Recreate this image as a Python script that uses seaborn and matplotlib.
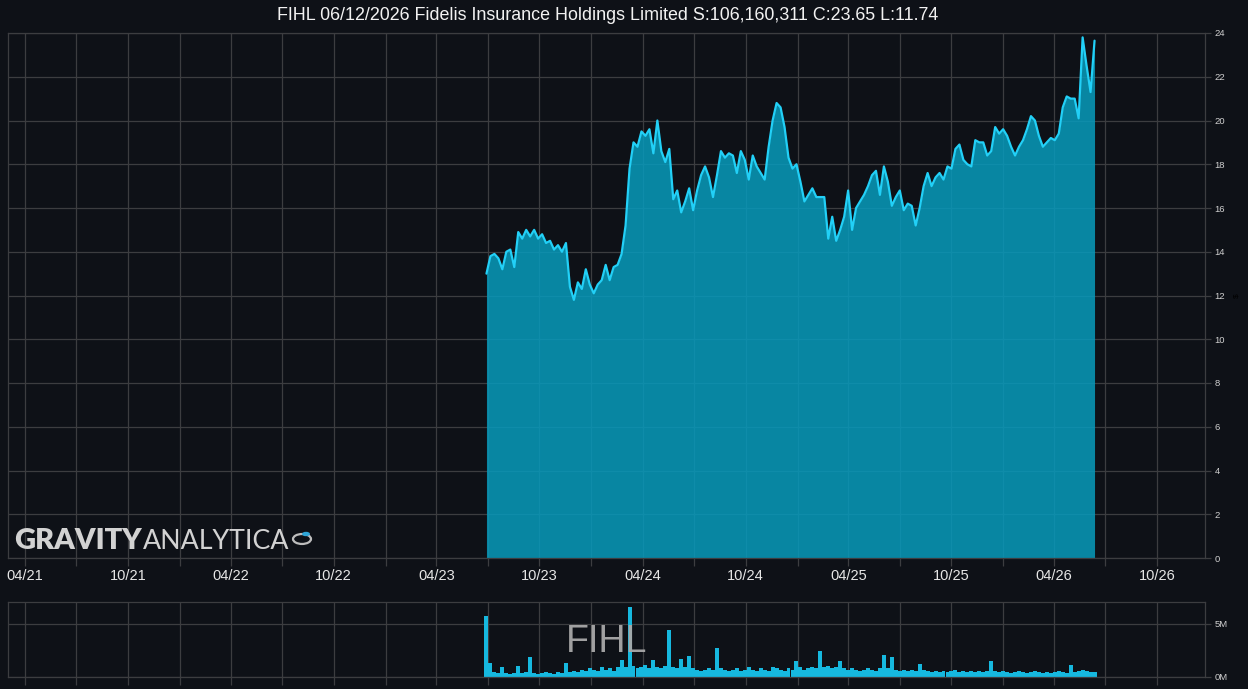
import numpy as np
import pandas as pd
import matplotlib
matplotlib.use("Agg")
import matplotlib.pyplot as plt
import matplotlib.dates as mdates
from matplotlib.patches import Circle
import seaborn as sns

# ---------------- data ----------------
ticker = "FIHL"
title = "FIHL 06/12/2026 Fidelis Insurance Holdings Limited S:106,160,311 C:23.65 L:11.74"
start_date = "2023-06-29"
end_date = "2026-06-12"

prices = [
    13.0, 13.8, 13.9, 13.7, 13.2, 14.0, 14.1, 13.3, 14.9, 14.6,
    15.0, 14.7, 15.0, 14.6, 14.8, 14.4, 14.5, 14.1, 14.3, 14.0,
    14.4, 12.4, 11.8, 12.6, 12.3, 13.2, 12.5, 12.1, 12.5, 12.7,
    13.4, 12.7, 13.3, 13.4, 13.9, 15.2, 17.8, 19.0, 18.8, 19.5,
    19.3, 19.6, 18.5, 20.0, 18.6, 18.1, 18.7, 16.4, 16.8, 15.8,
    16.3, 16.9, 15.9, 16.8, 17.5, 17.9, 17.4, 16.5, 17.5, 18.6,
    18.3, 18.5, 18.4, 17.6, 18.6, 18.2, 17.3, 18.4, 17.9, 17.6,
    17.3, 18.8, 20.0, 20.8, 20.6, 19.7, 18.3, 17.8, 18.0, 17.2,
    16.3, 16.6, 16.9, 16.5, 16.5, 16.5, 14.6, 15.6, 14.5, 15.0,
    15.6, 16.8, 15.0, 16.0, 16.3, 16.6, 17.0, 17.5, 17.7, 16.6,
    17.9, 17.2, 16.1, 16.5, 16.8, 15.9, 16.2, 16.1, 15.2, 16.0,
    17.0, 17.6, 17.0, 17.4, 17.6, 17.3, 17.9, 17.8, 18.7, 18.9,
    18.2, 18.0, 17.9, 19.1, 19.0, 19.0, 18.4, 18.6, 19.7, 19.4,
    19.6, 19.3, 18.8, 18.4, 18.8, 19.1, 19.6, 20.2, 20.0, 19.3,
    18.8, 19.0, 19.2, 19.1, 19.4, 20.6, 21.1, 21.0, 21.0, 20.1,
    23.8, 22.5, 21.3, 23.65,
]

volumes_m = [
    5.7, 1.3, 0.5, 0.4, 0.9, 0.4, 0.3, 0.4, 1.0, 0.4,
    0.5, 1.9, 0.4, 0.3, 0.4, 0.5, 0.4, 0.3, 0.5, 0.4,
    1.3, 0.5, 0.6, 0.5, 0.7, 0.6, 0.8, 0.7, 0.6, 0.9,
    0.7, 0.8, 0.6, 0.9, 1.6, 0.9, 6.6, 1.0, 0.8, 0.9,
    1.1, 0.8, 1.6, 0.9, 0.8, 1.0, 4.4, 0.9, 0.8, 1.7,
    0.9, 2.0, 0.8, 0.7, 0.6, 0.7, 0.8, 0.7, 2.7, 0.8,
    0.7, 0.6, 0.7, 0.8, 0.6, 0.7, 0.9, 0.7, 0.6, 0.8,
    0.7, 0.6, 0.9, 0.8, 0.7, 0.6, 0.8, 0.7, 1.5, 0.9,
    0.7, 0.8, 0.9, 0.8, 2.4, 0.9, 1.0, 0.8, 0.9, 1.5,
    0.8, 0.7, 0.8, 0.7, 0.6, 0.7, 0.8, 0.7, 0.6, 0.8,
    2.1, 0.8, 1.9, 0.7, 0.6, 0.7, 0.6, 0.7, 0.6, 1.2,
    0.7, 0.6, 0.5, 0.6, 0.5, 0.6, 0.5, 0.6, 0.7, 0.5,
    0.6, 0.5, 0.6, 0.5, 0.6, 0.5, 0.6, 1.5, 0.6, 0.5,
    0.6, 0.5, 0.4, 0.5, 0.6, 0.5, 0.4, 0.5, 0.6, 0.5,
    0.4, 0.5, 0.4, 0.5, 0.6, 0.5, 0.4, 1.1, 0.5, 0.6,
    0.7, 0.6, 0.5, 0.5,
]

price_ticks = [0, 2, 4, 6, 8, 10, 12, 14, 16, 18, 20, 22, 24]
volume_ticks = [0, 5]
volume_tick_labels = ["0M", "5M"]

dates = pd.date_range(start_date, end_date, periods=len(prices))
df = pd.DataFrame({"date": dates, "price": prices, "volume": volumes_m})

# ---------------- style ----------------
BG = "#0e1117"
GRID = "#3c3d40"
FILL = "#079bbc"
LINE = "#22d0f7"
VOL = "#16b8df"
TXT = "#e6e6e6"

sns.set_theme(style="dark")
plt.rcParams["font.family"] = ["Liberation Sans", "DejaVu Sans"]
plt.rcParams.update({
    "figure.facecolor": BG,
    "axes.facecolor": BG,
    "savefig.facecolor": BG,
    "axes.edgecolor": GRID,
    "grid.color": GRID,
})

fig = plt.figure(figsize=(12.48, 6.89), dpi=100)
ax = fig.add_axes([8 / 1248, 1 - 558 / 689, (1205 - 8) / 1248, (558 - 33) / 689])
axv = fig.add_axes([8 / 1248, 1 - 677 / 689, (1205 - 8) / 1248, (677 - 602) / 689])

xmin = pd.Timestamp("2021-03-02")
xmax = pd.Timestamp("2026-12-25")

for a in (ax, axv):
    a.set_facecolor(BG)
    a.set_xlim(xmin, xmax)
    a.xaxis.set_major_locator(mdates.MonthLocator(bymonth=[4, 10]))
    a.xaxis.set_minor_locator(mdates.MonthLocator(bymonth=[1, 7]))
    a.xaxis.set_major_formatter(mdates.DateFormatter("%m/%y"))
    a.grid(True, which="both", axis="x", color=GRID, linewidth=0.9, zorder=0)
    a.grid(True, which="major", axis="y", color=GRID, linewidth=0.9, zorder=0)
    a.set_axisbelow(True)
    for s in a.spines.values():
        s.set_color(GRID)
        s.set_linewidth(0.9)
    a.yaxis.tick_right()
    a.tick_params(axis="x", which="both", direction="out", length=6, width=0.9,
                  color=GRID, labelcolor=TXT, labelsize=10.5, pad=2, bottom=True)
    a.tick_params(axis="y", which="both", direction="out", length=4, width=0.9,
                  color=GRID, labelcolor="#d0d0d0", labelsize=6.8, pad=3, right=True, left=False)

# price panel
ax.fill_between(df["date"], 0, df["price"], color=FILL, alpha=0.85, linewidth=0, zorder=2)
sns.lineplot(data=df, x="date", y="price", ax=ax, color=LINE, linewidth=1.6, zorder=3)
ax.set_ylim(0, 24)
ax.set_yticks(price_ticks)
ax.set_xlabel("")
ax.set_ylabel("$", color="#000000", fontsize=6, rotation=90, labelpad=6)
ax.yaxis.set_label_position("right")

# volume panel
axv.bar(df["date"], df["volume"], width=7, color=VOL, linewidth=0, zorder=2)
axv.set_ylim(0, 7.05)
axv.set_yticks(volume_ticks)
axv.set_yticklabels(volume_tick_labels)
axv.tick_params(axis="x", labelbottom=False)
axv.set_xlabel("")
axv.set_ylabel("")
axv.text(0.5, 0.47, ticker, transform=axv.transAxes, ha="center", va="center",
         fontsize=27, color="#a9a9a9", alpha=0.95, zorder=4)

# title
fig.text(608 / 1248, 1 - 15.5 / 689, title, ha="center", va="center",
         fontsize=12.9, color="#f2f2f2")

# logo
fig.text(14 / 1248, 1 - 549 / 689, "GRAVITY", ha="left", va="baseline",
         fontsize=21, fontweight="heavy", color="#d2d2d2", family=["Lato", "DejaVu Sans"])
fig.text(143 / 1248, 1 - 549 / 689, "ANALYTICA", ha="left", va="baseline",
         fontsize=19.3, fontweight="normal", color="#d2d2d2", family=["Lato", "DejaVu Sans"])
logo_c = Circle((302 / 1248, 1 - 539 / 689), 9 / 1248, transform=fig.transFigure,
                fill=False, edgecolor="#bdbdbd", linewidth=1.6)
fig.patches.append(logo_c)
rocket = Circle((306 / 1248, 1 - 534 / 689), 4 / 1248, transform=fig.transFigure,
                facecolor="#2fa6d8", edgecolor="none")
fig.patches.append(rocket)

fig.savefig("out.png", dpi=100, facecolor=BG)
